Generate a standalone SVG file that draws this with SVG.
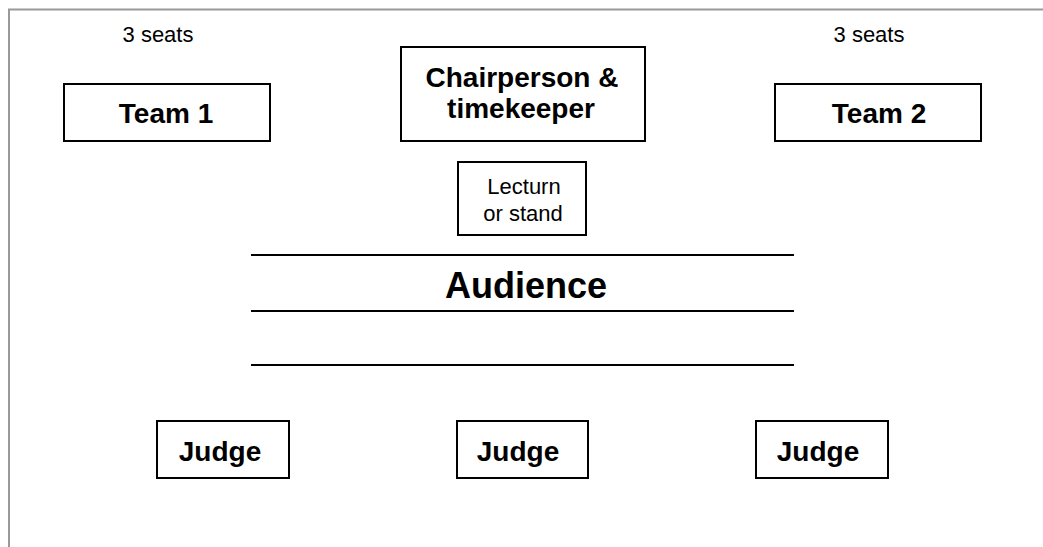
<svg xmlns="http://www.w3.org/2000/svg" width="1043" height="547" viewBox="0 0 1043 547">
  <style>
    .box { fill: #ffffff; stroke: #000000; stroke-width: 2; }
    .bold { font-family: "Liberation Sans", Arial, sans-serif; font-weight: bold; font-size: 28px; fill: #000; text-anchor: middle; }
    .reg { font-family: "Liberation Sans", Arial, sans-serif; font-size: 22px; fill: #000; text-anchor: middle; }
    .big { font-family: "Liberation Sans", Arial, sans-serif; font-weight: bold; font-size: 36px; fill: #000; text-anchor: middle; }
    .row { stroke: #000; stroke-width: 2; }
    .frame { stroke: #999999; stroke-width: 2; fill: none; }
  </style>
  <rect width="1043" height="547" fill="#ffffff"/>
  <polyline class="frame" points="9,547 9,9.5 1043,9.5"/>

  <g id="seats-left"><text class="reg" x="158" y="42">3 seats</text></g>
  <g id="seats-right"><text class="reg" x="869" y="42">3 seats</text></g>

  <g id="team1">
    <rect class="box" x="64" y="84" width="206" height="57"/>
    <text class="bold" x="166" y="123">Team 1</text>
  </g>
  <g id="chair">
    <rect class="box" x="401" y="47" width="244" height="94"/>
    <text class="bold" x="522" y="87">Chairperson &amp;</text>
    <text class="bold" x="521" y="118">timekeeper</text>
  </g>
  <g id="team2">
    <rect class="box" x="775" y="84" width="206" height="57"/>
    <text class="bold" x="879" y="123">Team 2</text>
  </g>
  <g id="lecturn">
    <rect class="box" x="458" y="162" width="128" height="73"/>
    <text class="reg" x="524" y="194">Lecturn</text>
    <text class="reg" x="523" y="221">or stand</text>
  </g>

  <g id="audience">
    <line class="row" x1="251" y1="255" x2="794" y2="255"/>
    <line class="row" x1="251" y1="311" x2="794" y2="311"/>
    <line class="row" x1="251" y1="365" x2="794" y2="365"/>
    <text class="big" x="526" y="298">Audience</text>
  </g>

  <g id="judge1">
    <rect class="box" x="157" y="421" width="132" height="57"/>
    <text class="bold" x="220" y="461">Judge</text>
  </g>
  <g id="judge2">
    <rect class="box" x="457" y="421" width="131" height="57"/>
    <text class="bold" x="518" y="461">Judge</text>
  </g>
  <g id="judge3">
    <rect class="box" x="756" y="421" width="132" height="57"/>
    <text class="bold" x="818" y="461">Judge</text>
  </g>

  <g id="connectors"></g>
</svg>
